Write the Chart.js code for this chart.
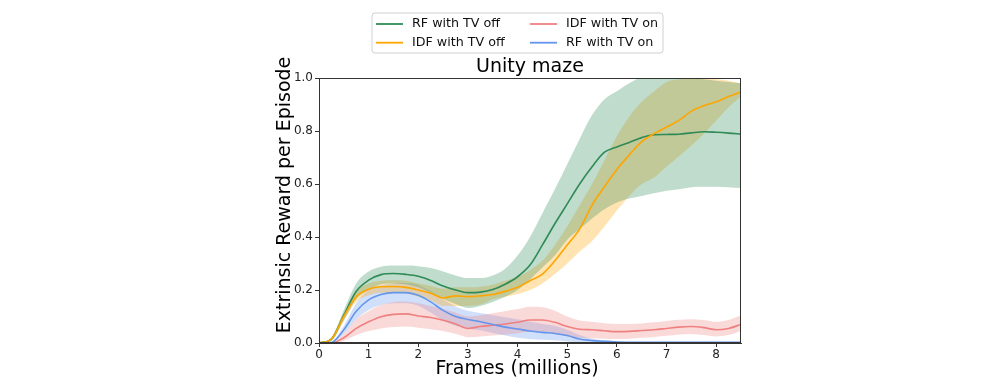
<!DOCTYPE html>
<html><head><meta charset="utf-8">
<script src="https://cdn.jsdelivr.net/npm/chart.js@4"></script>
<style>html,body{margin:0;padding:0;background:#fff;}canvas{display:block}</style>
</head><body>
<canvas id="c" width="1000" height="387"></canvas>
<script>
const FRAMES = [0,0.25,0.5,0.75,1,1.25,1.5,1.75,2,2.25,2.5,2.75,3,3.25,3.5,3.75,4,4.25,4.5,4.75,5,5.25,5.5,5.75,6,6.25,6.5,6.75,7,7.25,7.5,7.75,8,8.25,8.5];
const X_TICKS = [0,1,2,3,4,5,6,7,8];
const Y_TICKS = [0,0.2,0.4,0.6,0.8,1.0];

const RF_OFF_MEAN = [0,0.015,0.105,0.195,0.237,0.258,0.262,0.259,0.252,0.236,0.215,0.2,0.19,0.192,0.202,0.222,0.25,0.294,0.37,0.45,0.525,0.6,0.665,0.72,0.74,0.757,0.775,0.786,0.787,0.788,0.793,0.797,0.795,0.792,0.788];
const RF_OFF_LOW  = [0,0.008,0.085,0.165,0.2,0.222,0.225,0.222,0.21,0.19,0.167,0.147,0.132,0.14,0.155,0.175,0.2,0.24,0.285,0.33,0.39,0.43,0.47,0.505,0.53,0.545,0.555,0.565,0.575,0.58,0.588,0.59,0.59,0.588,0.585];
const RF_OFF_HIGH = [0,0.02,0.125,0.225,0.27,0.288,0.292,0.292,0.29,0.283,0.27,0.255,0.245,0.245,0.255,0.28,0.33,0.4,0.49,0.58,0.675,0.77,0.86,0.92,0.95,0.98,1.0,1.0,1.0,1.0,1.0,0.995,0.99,0.985,0.98];

const IDF_OFF_MEAN = [0,0.015,0.1,0.175,0.203,0.212,0.213,0.21,0.2,0.188,0.17,0.178,0.175,0.178,0.183,0.195,0.21,0.235,0.26,0.31,0.37,0.43,0.52,0.59,0.655,0.71,0.76,0.79,0.815,0.84,0.875,0.895,0.91,0.93,0.947];
const IDF_OFF_LOW  = [0,0.008,0.085,0.155,0.18,0.19,0.19,0.187,0.175,0.16,0.14,0.14,0.14,0.145,0.165,0.175,0.185,0.2,0.225,0.26,0.3,0.345,0.385,0.44,0.5,0.555,0.6,0.625,0.665,0.705,0.745,0.79,0.84,0.89,0.93];
const IDF_OFF_HIGH = [0,0.02,0.115,0.195,0.225,0.235,0.237,0.235,0.225,0.215,0.205,0.21,0.21,0.212,0.22,0.235,0.25,0.275,0.31,0.37,0.44,0.52,0.6,0.69,0.78,0.855,0.91,0.95,0.985,0.995,1.0,1.0,0.995,0.99,0.98];

const IDF_ON_MEAN = [0,0,0.02,0.055,0.08,0.099,0.108,0.11,0.102,0.096,0.086,0.072,0.055,0.062,0.067,0.072,0.078,0.087,0.087,0.078,0.062,0.052,0.05,0.046,0.043,0.044,0.047,0.05,0.055,0.06,0.062,0.058,0.05,0.055,0.07];
const IDF_ON_LOW  = [0,0,0.008,0.03,0.045,0.055,0.06,0.062,0.058,0.052,0.045,0.035,0.022,0.025,0.028,0.032,0.037,0.042,0.04,0.035,0.025,0.02,0.018,0.016,0.015,0.016,0.02,0.023,0.027,0.032,0.034,0.03,0.025,0.03,0.045];
const IDF_ON_HIGH = [0,0,0.035,0.09,0.12,0.143,0.155,0.157,0.15,0.14,0.128,0.115,0.1,0.105,0.112,0.12,0.128,0.137,0.135,0.122,0.1,0.085,0.08,0.075,0.072,0.072,0.074,0.078,0.083,0.088,0.09,0.087,0.08,0.087,0.105];

const RF_ON_MEAN = [0,0.002,0.05,0.12,0.163,0.183,0.19,0.19,0.18,0.155,0.123,0.1,0.089,0.08,0.07,0.06,0.053,0.045,0.04,0.036,0.028,0.015,0.009,0.006,0.004,0.003,0.003,0.003,0.003,0.003,0.003,0.003,0.003,0.003,0.003];
const RF_ON_LOW  = [0,0.001,0.035,0.09,0.125,0.143,0.15,0.15,0.14,0.115,0.085,0.065,0.055,0.048,0.038,0.028,0.02,0.015,0.012,0.01,0.006,0.003,0.002,0.001,0.001,0.001,0.001,0.001,0.001,0.001,0.001,0.001,0.001,0.001,0.001];
const RF_ON_HIGH = [0,0.004,0.065,0.15,0.2,0.218,0.225,0.226,0.218,0.195,0.165,0.138,0.122,0.113,0.105,0.097,0.09,0.08,0.072,0.065,0.05,0.03,0.016,0.01,0.007,0.005,0.005,0.005,0.005,0.005,0.005,0.005,0.005,0.005,0.005];

const LABELS = ['RF with TV off','IDF with TV off','IDF with TV on','RF with TV on'];
const TITLE = 'Unity maze';
const X_TITLE = 'Frames (millions)';
const Y_TITLE = 'Extrinsic Reward per Episode';

const FONT = "'DejaVu Sans', sans-serif";
const SERIES = [
  {label: LABELS[0], rgb: [46,139,87],  mean: RF_OFF_MEAN,  lo: RF_OFF_LOW,  hi: RF_OFF_HIGH},
  {label: LABELS[1], rgb: [255,165,0],  mean: IDF_OFF_MEAN, lo: IDF_OFF_LOW, hi: IDF_OFF_HIGH},
  {label: LABELS[2], rgb: [240,128,128],mean: IDF_ON_MEAN,  lo: IDF_ON_LOW,  hi: IDF_ON_HIGH},
  {label: LABELS[3], rgb: [100,149,237],mean: RF_ON_MEAN,   lo: RF_ON_LOW,   hi: RF_ON_HIGH}
];
const pts = ys => FRAMES.map((x, i) => ({x: x, y: ys[i]}));
const rgba = (c, a) => `rgba(${c[0]},${c[1]},${c[2]},${a})`;

const datasets = [];
SERIES.forEach((s, k) => {
  datasets.push({label: s.label + ' low', data: pts(s.lo), borderWidth: 0, pointRadius: 0, fill: false,
    borderColor: 'rgba(0,0,0,0)', cubicInterpolationMode: 'monotone', order: 10 + k});
  datasets.push({label: s.label + ' high', data: pts(s.hi), borderWidth: 0, pointRadius: 0, fill: '-1',
    borderColor: 'rgba(0,0,0,0)', backgroundColor: rgba(s.rgb, 0.3), cubicInterpolationMode: 'monotone', order: 10 + k});
});
SERIES.forEach((s, k) => {
  datasets.push({label: s.label, data: pts(s.mean), borderWidth: 1.6, pointRadius: 0, fill: false,
    borderColor: rgba(s.rgb, 1), cubicInterpolationMode: 'monotone', order: 4 - k});
});

const decor = {
  id: 'decor',
  afterDraw(chart) {
    const ctx = chart.ctx, a = chart.chartArea;
    ctx.save();
    ctx.strokeStyle = '#333'; ctx.lineWidth = 1;
    ctx.strokeRect(Math.round(a.left) + 0.5, Math.round(a.top) + 0.5, Math.round(a.right - a.left) - 1, Math.round(a.bottom - a.top) - 1);
    ctx.fillStyle = '#000';
    ctx.font = `19px ${FONT}`; ctx.textAlign = 'center'; ctx.textBaseline = 'alphabetic';
    ctx.fillText(TITLE, (a.left + a.right) / 2, 71.5);
    ctx.fillText(X_TITLE, 517, 374);
    ctx.save(); ctx.translate(290, 195); ctx.rotate(-Math.PI / 2);
    ctx.fillText(Y_TITLE, 0, 0); ctx.restore();
    const bx = 372, by = 13, bw = 291, bh = 40, r = 3;
    ctx.beginPath();
    ctx.moveTo(bx + r, by); ctx.arcTo(bx + bw, by, bx + bw, by + bh, r); ctx.arcTo(bx + bw, by + bh, bx, by + bh, r);
    ctx.arcTo(bx, by + bh, bx, by, r); ctx.arcTo(bx, by, bx + bw, by, r); ctx.closePath();
    ctx.fillStyle = 'rgba(255,255,255,0.8)'; ctx.fill();
    ctx.strokeStyle = '#d0d0d0'; ctx.lineWidth = 1; ctx.stroke();
    const cols = [376, 530], rows = [24, 42.7];
    const place = [[0,0],[0,1],[1,0],[1,1]];
    ctx.font = `12.7px ${FONT}`; ctx.textAlign = 'left'; ctx.textBaseline = 'middle';
    SERIES.forEach((s, k) => {
      const cx = cols[place[k][0]], cy = rows[place[k][1]];
      ctx.strokeStyle = rgba(s.rgb, 1); ctx.lineWidth = 1.8;
      ctx.beginPath(); ctx.moveTo(cx, cy); ctx.lineTo(cx + 27, cy); ctx.stroke();
      ctx.fillStyle = '#111';
      ctx.fillText(s.label, cx + 36, cy);
    });
    ctx.restore();
  }
};

new Chart(document.getElementById('c'), {
  type: 'line',
  data: {datasets},
  options: {
    responsive: false, animation: false, devicePixelRatio: 1,
    layout: {padding: {left: 0, right: 259, top: 78, bottom: 0}},
    plugins: {legend: {display: false}, tooltip: {enabled: false}, title: {display: false},
      filler: {drawTime: 'beforeDatasetsDraw'}},
    scales: {
      x: {type: 'linear', min: 0, max: 8.5,
        afterBuildTicks: s => { s.ticks = X_TICKS.map(v => ({value: v})); },
        afterFit: s => { s.height = 44; },
        ticks: {font: {family: FONT, size: 12}, color: '#222', padding: 1, maxRotation: 0, autoSkip: false,
          callback: v => String(v)},
        grid: {drawOnChartArea: false, drawTicks: true, tickLength: 4, color: '#333', lineWidth: 1},
        border: {display: true, color: '#333', width: 1}},
      y: {min: 0, max: 1,
        afterBuildTicks: s => { s.ticks = Y_TICKS.map(v => ({value: v})); },
        afterFit: s => { s.width = 319; },
        ticks: {font: {family: FONT, size: 12}, color: '#222', padding: 2, autoSkip: false,
          callback: v => Number(v).toFixed(1)},
        grid: {drawOnChartArea: false, drawTicks: true, tickLength: 4, color: '#333', lineWidth: 1},
        border: {display: true, color: '#333', width: 1}}
    }
  },
  plugins: [decor]
});
</script>
</body></html>
